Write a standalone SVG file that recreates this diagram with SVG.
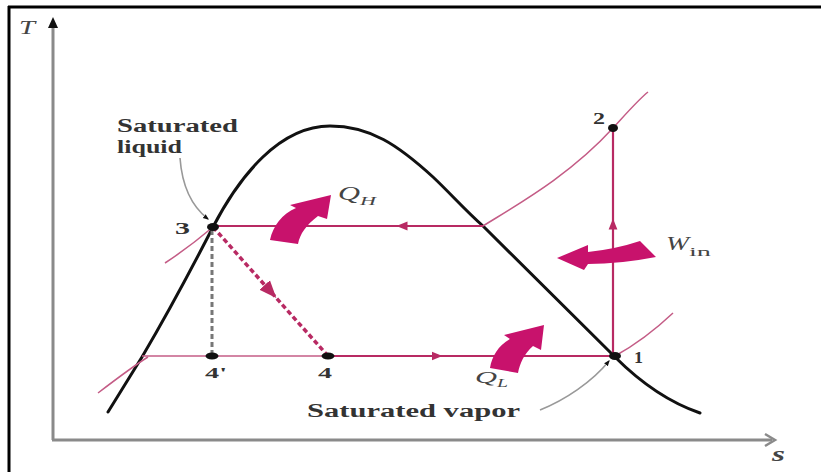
<svg xmlns="http://www.w3.org/2000/svg" width="821" height="472" viewBox="0 0 821 472">
<style>
.txt{font-family:"Liberation Serif","Times New Roman",serif;font-weight:bold;fill:#333}
.ital{font-family:"Liberation Serif","Times New Roman",serif;font-style:italic;fill:#444}
.dome{fill:none;stroke:#111;stroke-width:3;stroke-linejoin:round;stroke-linecap:round}
.proc{fill:none;stroke:#b82a63;stroke-width:2.2}
.iso{fill:none;stroke:#c45c86;stroke-width:1.5}
.leader{fill:none;stroke:#999;stroke-width:1.6}
.big{fill:#c8126c}
.dot{fill:#111}
</style>
<defs>
<marker id="mid" viewBox="0 0 10 10" refX="5" refY="5" markerWidth="5" markerHeight="5" orient="auto" markerUnits="strokeWidth">
<path d="M0,1 L10,5 L0,9 Z" fill="#b82a63"/>
</marker>
<marker id="lead" viewBox="0 0 10 10" refX="8" refY="5" markerWidth="6" markerHeight="6" orient="auto" markerUnits="userSpaceOnUse">
<path d="M0,1 L10,5 L0,9 Z" fill="#111"/>
</marker>
</defs>
<rect width="821" height="472" fill="#fff"/>
<g id="frame">
<line x1="8" y1="7" x2="821" y2="7" stroke="#000" stroke-width="3"/>
<line x1="9" y1="6" x2="9" y2="472" stroke="#000" stroke-width="3"/>
</g>
<g id="axes">
<line x1="53" y1="440" x2="53" y2="26" stroke="#8a8a8a" stroke-width="3"/>
<path d="M48,28 L53,17 L58,28 Z" fill="#111"/>
<line x1="52" y1="440" x2="772" y2="440" stroke="#8a8a8a" stroke-width="3"/>
<path d="M765,434 L775,440 L765,446" fill="none" stroke="#8a8a8a" stroke-width="2.5"/>
<text class="ital" x="19" y="34" font-size="18" textLength="16" lengthAdjust="spacingAndGlyphs">T</text>
<text class="ital" x="772" y="461" font-size="20" font-weight="bold" textLength="13" lengthAdjust="spacingAndGlyphs">s</text>
</g>
<g id="dome">
<path class="dome" d="M108,412 L142,357 C165,318 195,262 213,227 C240,175 280,126 330,126 C370,126 398,145 433,177 C450,193 465,210 483,226 L615,357 C640,382 668,402 700,413"/>
</g>
<g id="connectors">
<path class="iso" d="M483,226 C520,203 570,175 613,128 C625,115 638,100 648,92"/>
<path class="iso" d="M615,356 C635,345 655,330 673,313"/>
<path class="iso" d="M148,357 C135,365 115,380 98,393"/>
<path class="iso" d="M213,227 C200,238 185,250 165,263"/>
<path class="iso" d="M142,356 L328,356"/>
<path class="proc" d="M483,226 L402,226 L213,226" marker-mid="url(#mid)"/>
<path class="proc" d="M328,356 L437,356 L615,356" marker-mid="url(#mid)"/>
<path class="proc" d="M613,356 L613,224 L613,128" marker-mid="url(#mid)"/>
<path d="M213,227 L270.5,291.5 L328,356" fill="none" stroke="#b82a63" stroke-width="3.5" stroke-dasharray="5,3" marker-mid="url(#mid)"/>
<line x1="212" y1="230" x2="212" y2="354" stroke="#777" stroke-width="3" stroke-dasharray="5,3"/>
<path class="leader" d="M180,158 C182,185 190,205 208,219" marker-end="url(#lead)"/>
<path class="leader" d="M540,410 C565,400 592,382 609,361" marker-end="url(#lead)"/>
</g>
<g id="QH">
<path class="big" d="M270,240 C273,226 282,214 296,208 L290,205 L331,195 L327,219 L318,216 C306,225 300,234 298,244 Z"/>
<text class="ital" x="338" y="200" font-size="18" textLength="22" lengthAdjust="spacingAndGlyphs">Q</text>
<text class="ital" x="360" y="205" font-size="13" textLength="16" lengthAdjust="spacingAndGlyphs">H</text>
</g>
<g id="Win">
<path class="big" d="M557,258 L588,245 L588,252 Q616,249 640,241 L656,257 Q620,264 588,264 L584,270 Z"/>
<text class="ital" x="666" y="250" font-size="18" textLength="23" lengthAdjust="spacingAndGlyphs">W</text>
<text x="689" y="256" font-size="13" font-family="Liberation Serif, serif" fill="#444" textLength="22" lengthAdjust="spacingAndGlyphs">in</text>
</g>
<g id="QL">
<path class="big" d="M490,368 C492,356 498,346 510,339 L504,335 L544,325 L541,350 L533,346 C524,354 520,363 518,373 Z"/>
<text class="ital" x="475" y="383" font-size="16" textLength="22" lengthAdjust="spacingAndGlyphs">Q</text>
<text class="ital" x="497" y="387" font-size="12" textLength="11" lengthAdjust="spacingAndGlyphs">L</text>
</g>
<g id="p1">
<ellipse class="dot" cx="615" cy="356" rx="6" ry="4"/>
<text class="txt" x="634" y="363" font-size="16" textLength="9" lengthAdjust="spacingAndGlyphs">1</text>
</g>
<g id="p2">
<ellipse class="dot" cx="613" cy="128" rx="5" ry="4"/>
<text class="txt" x="593" y="124" font-size="16" textLength="12" lengthAdjust="spacingAndGlyphs">2</text>
</g>
<g id="p3">
<ellipse class="dot" cx="213" cy="227" rx="6" ry="4"/>
<text class="txt" x="175" y="234" font-size="17" textLength="15" lengthAdjust="spacingAndGlyphs">3</text>
</g>
<g id="p4prime">
<ellipse class="dot" cx="212" cy="356" rx="6.5" ry="3.5"/>
<text class="txt" x="205" y="378" font-size="15" textLength="22" lengthAdjust="spacingAndGlyphs">4'</text>
</g>
<g id="p4">
<ellipse class="dot" cx="328" cy="356" rx="6.5" ry="3.5"/>
<text class="txt" x="318" y="378" font-size="15" textLength="14" lengthAdjust="spacingAndGlyphs">4</text>
</g>
<g id="satliq">
<text class="txt" x="117" y="132" font-size="18" textLength="121" lengthAdjust="spacingAndGlyphs">Saturated</text>
<text class="txt" x="117" y="153" font-size="18" textLength="65" lengthAdjust="spacingAndGlyphs">liquid</text>
</g>
<g id="satvap">
<text class="txt" x="307" y="417" font-size="18" textLength="213" lengthAdjust="spacingAndGlyphs">Saturated vapor</text>
</g>
</svg>
